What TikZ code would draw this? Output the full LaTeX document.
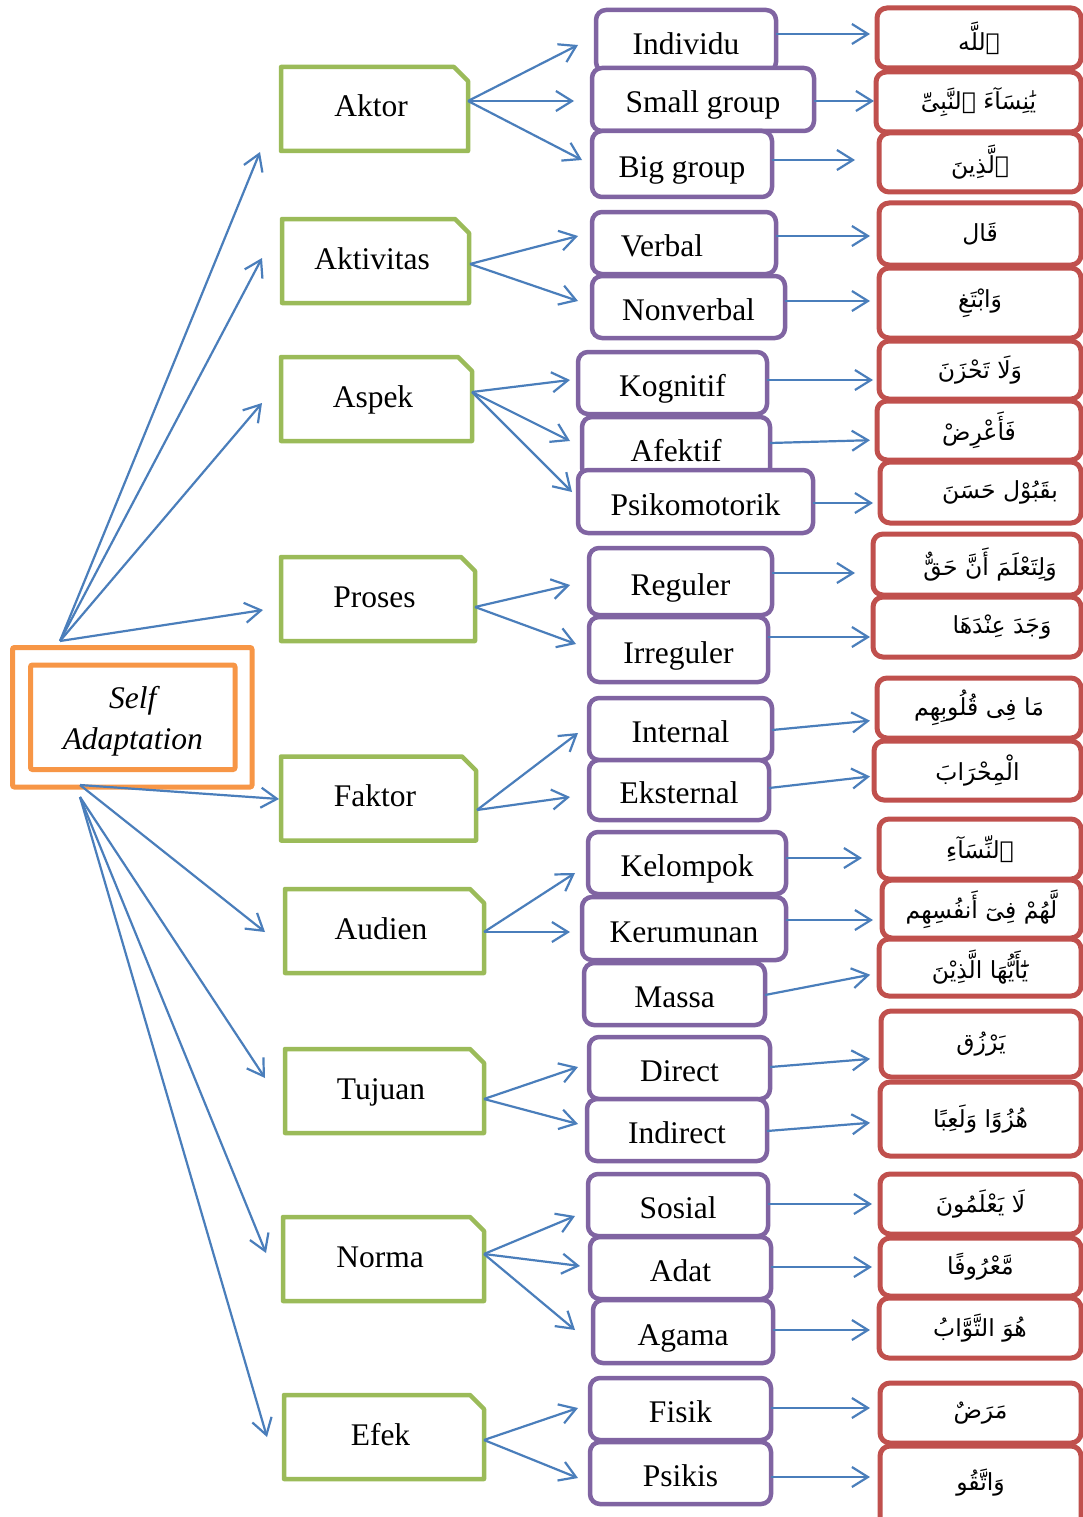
\documentclass[tikz,border=0pt]{standalone}
\usepackage{fontspec}
\setmainfont{Liberation Serif}
\newfontfamily\arabicfont[Script=Arabic]{DejaVu Sans}
\TeXXeTstate=1
\usetikzlibrary{arrows.meta,calc}

\definecolor{linkblue}{HTML}{4A7EBB}
\definecolor{topicgreen}{HTML}{9BBB59}
\definecolor{itempurple}{HTML}{8064A2}
\definecolor{versered}{HTML}{C0504D}
\definecolor{coreorange}{HTML}{F79646}

\newcommand\boxfont{\fontsize{31.5}{36}\selectfont}
\newcommand\ayat[1]{{\arabicfont\fontsize{23.5}{28}\selectfont\beginR #1\endR}}

% green topic box with a clipped top-right corner
\newcommand\topic[5]{%
  \node[gtext, minimum width=#4pt] (#1) at (#2,#3) {#5\kern7pt};
  \draw[gline] (#1.south west) -- (#1.north west)
    -- ([xshift=-14pt]#1.north east) -- ([yshift=-14pt]#1.north east)
    -- (#1.south east) -- cycle;}

\begin{document}
\begin{tikzpicture}[x=1pt,y=-1pt,
  arr/.style={draw=linkblue, line width=2.2pt,
    -{Straight Barb[length=16pt,width=20pt]}},
  gtext/.style={rectangle, inner sep=0pt, outer sep=0pt, minimum height=84pt,
    text height=16pt, text depth=0pt, font=\boxfont},
  gline/.style={draw=topicgreen, line width=4.5pt, line join=round},
  pbox/.style={rectangle, draw=itempurple, fill=white, line width=4.5pt,
    rounded corners=10pt, inner sep=0pt, outer sep=0pt, minimum height=62pt,
    text height=27pt, text depth=0pt, font=\boxfont},
  rbox/.style={rectangle, draw=versered, fill=white, line width=5pt,
    rounded corners=10pt, inner sep=0pt, outer sep=0pt},
  obox/.style={rectangle, draw=coreorange, line width=5pt, rounded corners=2pt,
    inner sep=0pt, outer sep=0pt}
]
\useasboundingbox[fill=white] (0,0) rectangle (1083,1517);

% central concept
\node[obox, minimum width=239.5pt, minimum height=139.5pt] (sa) at (132.25,717.25) {};
\node[obox, minimum width=204.5pt, minimum height=104.5pt] (sain) at (132.75,717.25) {};
\node[align=center, inner sep=0pt, font=\fontsize{31.5}{41}\selectfont\itshape]
  (salabel) at (132.75,721.5) {Self\\Adaptation};

% topics
\topic{aktor}{374.5}{109}{187}{Aktor}
\topic{aktiv}{375.5}{261}{187}{Aktivitas}
\topic{aspek}{376.5}{399}{191}{Aspek}
\topic{proses}{378}{599}{194}{Proses}
\topic{faktor}{378.5}{798.5}{195}{Faktor}
\topic{audien}{384.5}{931}{199}{Audien}
\topic{tujuan}{384.5}{1091}{199}{Tujuan}
\topic{norma}{383.5}{1259}{201}{Norma}
\topic{efek}{384}{1437}{200}{Efek}

% items
\node[pbox, minimum width=180pt] (ind) at (686,41) {Individu};
\node[pbox, minimum width=222pt, minimum height=63pt] (small) at (703,99.5) {Small group};
\node[pbox, minimum width=180pt, minimum height=66pt] (big) at (682,164) {Big group};
\node[pbox, minimum width=184pt] (verbal) at (684,243) {Verbal\kern44pt};
\node[pbox, minimum width=193pt] (nonverbal) at (688.5,307) {Nonverbal};
\node[pbox, minimum width=189pt] (kog) at (672.5,383) {Kognitif};
\node[pbox, minimum width=188pt, minimum height=61pt] (afek) at (676,447.5) {Afektif};
\node[pbox, minimum width=235pt, minimum height=63pt] (psiko) at (695.5,501.5) {Psikomotorik};
\node[pbox, minimum width=183pt, minimum height=67pt] (reg) at (680.5,581.5) {Reguler};
\node[pbox, minimum width=179pt, minimum height=65pt] (irreg) at (678.5,649.5) {Irreguler};
\node[pbox, minimum width=183pt] (int) at (680.5,729) {Internal};
\node[pbox, minimum width=180pt, minimum height=60pt] (eks) at (679,790) {Eksternal};
\node[pbox, minimum width=198pt] (kel) at (687,863) {Kelompok};
\node[pbox, minimum width=204pt, minimum height=63pt] (ker) at (684,928.5) {Kerumunan};
\node[pbox, minimum width=181pt] (massa) at (674.5,994) {Massa};
\node[pbox, minimum width=181pt] (direct) at (679.5,1068) {Direct};
\node[pbox, minimum width=180pt] (indirect) at (677,1130) {Indirect};
\node[pbox, minimum width=180pt] (sosial) at (678,1205) {Sosial};
\node[pbox, minimum width=181pt] (adat) at (680.5,1268) {Adat};
\node[pbox, minimum width=180pt, minimum height=63pt] (agama) at (683,1331.5) {Agama};
\node[pbox, minimum width=181pt] (fisik) at (680.5,1409) {Fisik};
\node[pbox, minimum width=181pt] (psikis) at (680.5,1473) {Psikis};

% Qur'anic examples
\node[rbox, minimum width=204pt, minimum height=60pt] (r1) at (979,38) {\ayat{ٱللَّه}};
\node[rbox, minimum width=205pt, minimum height=60pt] (r2) at (978.5,102) {\ayat{يَٰنِسَآءَ ٱلنَّبِىِّ}};
\node[rbox, minimum width=202pt, minimum height=59pt] (r3) at (980,162.5) {\ayat{ٱلَّذِينَ}};
\node[rbox, minimum width=202pt, minimum height=62pt] (r4) at (980,234) {\ayat{قَال}};
\node[rbox, minimum width=202pt, minimum height=70pt] (r5) at (980,303) {\ayat{وَابْتَغِ}};
\node[rbox, minimum width=202pt, minimum height=58pt] (r6) at (980,370) {\ayat{وَلَا تَحْزَنَ}};
\node[rbox, minimum width=204pt, minimum height=59pt] (r7) at (979,430.5) {\ayat{فَأَعْرِضْ}};
\node[rbox, minimum width=201pt, minimum height=61pt] (r8) at (980.5,492.5) {\hspace{39pt}\ayat{بقَبُوْل حَسَنَ}};
\node[rbox, minimum width=208pt, minimum height=61pt] (r9) at (977,564.5) {\hspace{26pt}\ayat{وَلِتَعْلَمَ أَنَّ حَقٌّ}};
\node[rbox, minimum width=208pt, minimum height=60pt] (r10) at (977,627) {\hspace{50pt}\ayat{وَجَدَ عِنْدَهَا}};
\node[rbox, minimum width=204pt, minimum height=60pt] (r11) at (979,708) {\ayat{مَا فِى قُلُوبِهِم}};
\node[rbox, minimum width=207pt, minimum height=59pt] (r12) at (977.5,770.5) {\ayat{الْمِحْرَابَ}};
\node[rbox, minimum width=202pt, minimum height=60pt] (r13) at (980,849) {\ayat{ٱلنِّسَآءِ}};
\node[rbox, minimum width=199pt, minimum height=58pt] (r14) at (981.5,909) {\ayat{لَّهُمْ فِىٓ أَنفُسِهِم}};
\node[rbox, minimum width=202pt, minimum height=57pt] (r15) at (980,967.5) {\ayat{يَٰٓأَيُّهَا الَّذِيْنَ}};
\node[rbox, minimum width=200pt, minimum height=66pt] (r16) at (981,1044) {\ayat{يَرْزُق}};
\node[rbox, minimum width=201pt, minimum height=74pt] (r17) at (980.5,1119) {\ayat{هُزُوًا وَلَعِبًا}};
\node[rbox, minimum width=201pt, minimum height=60pt] (r18) at (980.5,1204) {\ayat{لَا يَعْلَمُونَ}};
\node[rbox, minimum width=201pt, minimum height=58pt] (r19) at (980.5,1267) {\ayat{مَّعْرُوفًا}};
\node[rbox, minimum width=202pt, minimum height=60pt] (r20) at (980,1328) {\ayat{هُوَ التَّوَّابُ}};
\node[rbox, minimum width=201pt, minimum height=60pt] (r21) at (980.5,1413) {\ayat{مَرَضٌ}};
\node[rbox, minimum width=201pt, minimum height=84pt] (r22) at (980.5,1488) {\raisebox{16pt}{\ayat{وَاتَّقُو}}};

% central concept to topics
\coordinate (satop) at ($(sa.north west)+(47.5,-6.5)$);
\coordinate (sabot) at ($(sa.south west)+(67.5,-2)$);
\coordinate (sabotb) at ($(sa.south west)+(67.5,10)$);
\draw[arr] (satop) -- ($(aktor.south west)+(-21,1)$);
\draw[arr] (satop) -- ($(aktiv.west)+(-20,-3)$);
\draw[arr] (satop) -- ($(aspek.west)+(-19,4)$);
\draw[arr] (satop) -- ($(proses.west)+(-18,11)$);
\draw[arr] (sabot) -- ($(faktor.west)+(-2,0.5)$);
\draw[arr] (sabot) -- ($(audien.west)+(-20,1)$);
\draw[arr] (sabotb) -- ($(tujuan.west)+(-20,-13)$);
\draw[arr] (sabotb) -- ($(norma.west)+(-17,-6)$);
\draw[arr] (sabotb) -- ($(efek.west)+(-17,0)$);

% topics to items
\draw[arr] ($(aktor.east)+(0,-8)$) -- ($(ind.west)+(-18,4)$);
\draw[arr] ($(aktor.east)+(0,-8)$) -- ($(small.west)+(-18,1.5)$);
\draw[arr] ($(aktor.east)+(0,-8)$) -- ($(big.west)+(-10,-4)$);
\draw[arr] ($(aktiv.east)+(1,3)$) -- ($(verbal.west)+(-14,-7)$);
\draw[arr] ($(aktiv.east)+(1,3)$) -- ($(nonverbal.west)+(-14,-6)$);
\draw[arr] ($(aspek.east)+(0,-7)$) -- ($(kog.west)+(-8,-3)$);
\draw[arr] ($(aspek.east)+(0,-7)$) -- ($(afek.west)+(-12,-6.5)$);
\draw[arr] ($(aspek.east)+(0,-7)$) -- ($(psiko.west)+(-6,-9.5)$);
\draw[arr] ($(proses.east)+(0,8)$) -- ($(reg.west)+(-19,3.5)$);
\draw[arr] ($(proses.east)+(0,8)$) -- ($(irreg.west)+(-13,-5.5)$);
\draw[arr] ($(faktor.east)+(1,11.5)$) -- ($(int.west)+(-11,4)$);
\draw[arr] ($(faktor.east)+(1,11.5)$) -- ($(eks.west)+(-19,7)$);
\draw[arr] ($(audien.east)+(0,1)$) -- ($(kel.west)+(-13,10)$);
\draw[arr] ($(audien.east)+(0,1)$) -- ($(ker.west)+(-12,3.5)$);
\draw[arr] ($(tujuan.east)+(0,8)$) -- ($(direct.west)+(-11,-1)$);
\draw[arr] ($(tujuan.east)+(0,8)$) -- ($(indirect.west)+(-9,-6)$);
\draw[arr] ($(norma.east)+(0,-5)$) -- ($(sosial.west)+(-13,11)$);
\draw[arr] ($(norma.east)+(0,-5)$) -- ($(adat.west)+(-10,-2)$);
\draw[arr] ($(norma.east)+(0,-5)$) -- ($(agama.west)+(-18,-1.5)$);
\draw[arr] ($(efek.east)+(0,3)$) -- ($(fisik.west)+(-12,-1)$);
\draw[arr] ($(efek.east)+(0,3)$) -- ($(psikis.west)+(-12,5)$);

% items to examples
\foreach \p/\r/\ys/\ye/\g in {
  ind/r1/34/34/7, small/r2/101/101/2, big/r3/160/160/24,
  verbal/r4/236/236/9, nonverbal/r5/301/301/9, kog/r6/380/380/6,
  afek/r7/443/440/7, psiko/r8/503/503/7, reg/r9/573/573/18,
  irreg/r10/637/637/3, int/r11/730/720/7, eks/r12/788/776/4,
  kel/r13/858/858/17, ker/r14/920/920/9, massa/r15/995/973/9,
  direct/r16/1067/1058/11, indirect/r17/1131/1122/10,
  sosial/r18/1204/1204/8, adat/r19/1267/1267/8, agama/r20/1330/1330/9,
  fisik/r21/1408/1408/10, psikis/r22/1477/1477/10}
  \draw[arr, shorten >=\g pt] (\p.east |- 0,\ys) -- (\r.west |- 0,\ye);
\end{tikzpicture}
\end{document}
